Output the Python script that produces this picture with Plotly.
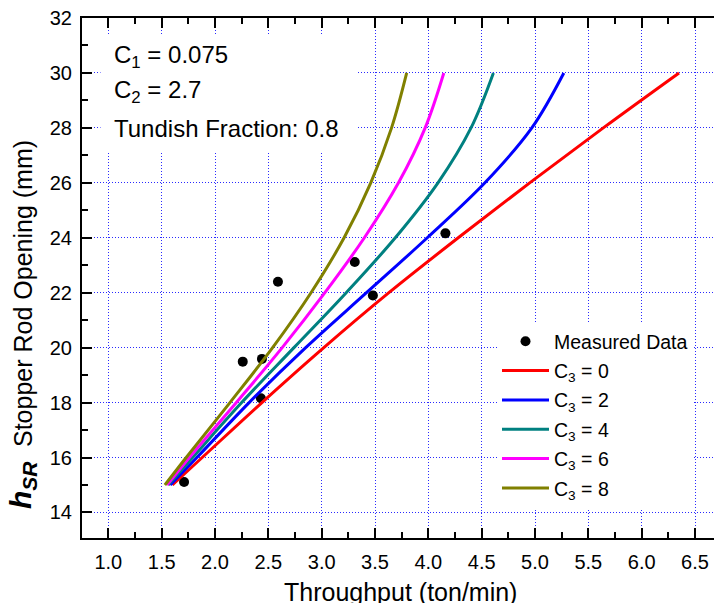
import plotly.graph_objects as go

# Stopper rod opening (mm) at which each model curve is evaluated
opening_mm = [15, 16, 18, 20, 22, 24, 26, 28, 30]

# Model throughput (ton/min) for each C3 value
thru_c3_0 = [1.60, 1.88, 2.44, 3.02, 3.63, 4.28, 4.95, 5.64, 6.35]
thru_c3_2 = [1.58, 1.83, 2.32, 2.85, 3.42, 3.99, 4.53, 4.97, 5.27]
thru_c3_4 = [1.56, 1.79, 2.25, 2.74, 3.23, 3.69, 4.09, 4.40, 4.61]
thru_c3_6 = [1.55, 1.76, 2.20, 2.63, 3.03, 3.40, 3.72, 3.97, 4.145]
thru_c3_8 = [1.53, 1.73, 2.14, 2.54, 2.90, 3.21, 3.46, 3.655, 3.797]

# Plant measurements
meas_thru = [1.71, 2.26, 2.44, 2.43, 2.59, 3.31, 3.48, 4.16]
meas_open = [15.11, 19.49, 19.59, 18.16, 22.40, 23.12, 21.90, 24.16]

c3_values = [0, 2, 4, 6, 8]
c3_curves = [thru_c3_0, thru_c3_2, thru_c3_4, thru_c3_6, thru_c3_8]
c3_colors = ["#FF0000", "#0000FF", "#008080", "#FF00FF", "#808000"]

x_ticks = [1.0, 1.5, 2.0, 2.5, 3.0, 3.5, 4.0, 4.5, 5.0, 5.5, 6.0, 6.5]
y_ticks = [14, 16, 18, 20, 22, 24, 26, 28, 30, 32]

FONT = "Liberation Sans, Arial, Helvetica, sans-serif"

W, H = 714, 603
ML, MR, MT, MB = 82, 0, 18, 65
PW, PH = W - ML - MR, H - MT - MB


def px_x(p):
    return (p - ML) / PW


def px_y(p):
    return 1 - (p - MT) / PH


fig = go.Figure()

fig.add_trace(go.Scatter(
    x=meas_thru, y=meas_open, mode="markers", name="Measured Data",
    legendgroup="meas",
    marker=dict(color="black", size=10, symbol="circle"),
))

for c3, thru, col in zip(c3_values, c3_curves, c3_colors):
    fig.add_trace(go.Scatter(
        x=thru, y=opening_mm, mode="lines",
        name=f"C<sub>3</sub> = {c3}", legendgroup=f"c3_{c3}",
        line=dict(color=col, width=3, shape="spline", smoothing=1.0),
    ))

axis_common = dict(
    showline=True, linecolor="black", linewidth=2,
    ticks="inside", ticklen=10, tickwidth=2, tickcolor="black",
    showgrid=True, gridcolor="#2A2AFF", gridwidth=1, griddash="1px,2px",
    zeroline=False,
    tickfont=dict(family=FONT, size=20, color="black"),
)

fig.update_xaxes(
    **axis_common,
    range=[0.753, 6.678], tickvals=x_ticks, tickformat=".1f",
    mirror="ticks", ticklabelstandoff=5,
    minor=dict(dtick=0.25, ticks="inside", ticklen=6, tickwidth=2,
               tickcolor="black", showgrid=False),
)
fig.update_yaxes(
    **axis_common,
    range=[13.07, 32], tickvals=y_ticks,
    mirror=False, ticklabelstandoff=4,
    minor=dict(dtick=1, ticks="inside", ticklen=6, tickwidth=2,
               tickcolor="black", showgrid=False),
)

txt_font = dict(family=FONT, size=24, color="black")
annotations = [
    # white panel behind the parameter text
    dict(text="\u00a0", x=px_x(100), y=px_y(34), width=256, height=117,
         xref="paper", yref="paper", xanchor="left", yanchor="top",
         showarrow=False, bgcolor="white", borderpad=0,
         font=dict(family=FONT, size=10)),
    dict(text="C<sub>1</sub> = 0.075", x=px_x(112), y=px_y(57),
         xref="paper", yref="paper", xanchor="left", yanchor="middle",
         showarrow=False, font=txt_font),
    dict(text="C<sub>2</sub> = 2.7", x=px_x(112), y=px_y(92),
         xref="paper", yref="paper", xanchor="left", yanchor="middle",
         showarrow=False, font=txt_font),
    dict(text="Tundish Fraction: 0.8", x=px_x(112), y=px_y(128),
         xref="paper", yref="paper", xanchor="left", yanchor="middle",
         showarrow=False, font=txt_font),
    dict(text="Throughput (ton/min)", x=px_x(400), y=px_y(592),
         xref="paper", yref="paper", xanchor="center", yanchor="middle",
         showarrow=False, font=dict(family=FONT, size=25, color="black")),
    # y-axis title: symbol part and descriptive part
    dict(text="<b><i>h</i></b><sub><b><i>SR</i></b></sub>",
         x=px_x(22), y=px_y(485), textangle=-90,
         xref="paper", yref="paper", xanchor="center", yanchor="middle",
         showarrow=False, font=dict(family=FONT, size=30, color="black")),
    dict(text="Stopper Rod Opening (mm)",
         x=px_x(23), y=px_y(294), textangle=-90,
         xref="paper", yref="paper", xanchor="center", yanchor="middle",
         showarrow=False, font=dict(family=FONT, size=25, color="black")),
]

fig.update_layout(
    width=W, height=H,
    margin=dict(l=ML, r=MR, t=MT, b=MB, pad=0),
    paper_bgcolor="white", plot_bgcolor="white",
    showlegend=True,
    legend=dict(
        x=px_x(497), y=px_y(322), xanchor="left", yanchor="top",
        bgcolor="white", borderwidth=0,
        font=dict(family=FONT, size=19.5, color="black"),
        itemwidth=47, tracegroupgap=1,
    ),
    annotations=annotations,
)

fig.write_html("out.html")
